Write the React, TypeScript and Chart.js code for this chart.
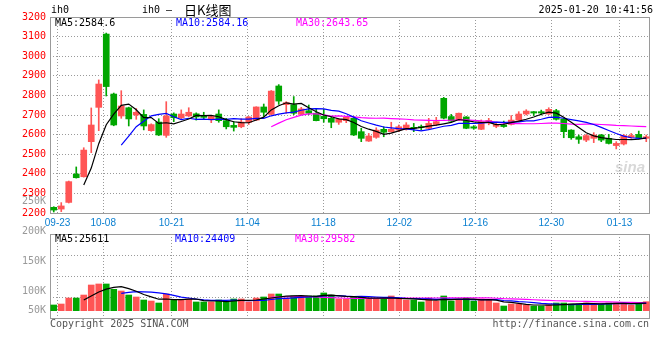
import React, { useEffect, useRef } from 'react';
import { Chart, registerables } from 'chart.js';

Chart.register(...registerables);

// ---------- data ----------
const dates = [
  '09-20', '09-23', '09-24', '09-25', '09-26', '09-27', '09-30',
  '10-08', '10-09', '10-10', '10-11', '10-14', '10-15', '10-16', '10-17', '10-18',
  '10-21', '10-22', '10-23', '10-24', '10-25', '10-28', '10-29', '10-30', '10-31',
  '11-01', '11-04', '11-05', '11-06', '11-07', '11-08', '11-11', '11-12', '11-13', '11-14', '11-15',
  '11-18', '11-19', '11-20', '11-21', '11-22', '11-25', '11-26', '11-27', '11-28', '11-29',
  '12-02', '12-03', '12-04', '12-05', '12-06', '12-09', '12-10', '12-11', '12-12', '12-13',
  '12-16', '12-17', '12-18', '12-19', '12-20', '12-23', '12-24', '12-25', '12-26', '12-27',
  '12-30', '12-31', '01-02', '01-03', '01-06', '01-07', '01-08', '01-09', '01-10',
  '01-13', '01-14', '01-15', '01-16', '01-17',
];

const opens = [
  2229, 2220, 2254, 2399, 2385, 2564, 2739, 3113, 2807, 2695,
  2737, 2700, 2703, 2620, 2664, 2596, 2705, 2686, 2695, 2706,
  2697, 2680, 2705, 2671, 2647, 2640, 2663, 2674, 2741, 2703,
  2848, 2753, 2753, 2703, 2722, 2709, 2693, 2683, 2663, 2671,
  2683, 2615, 2567, 2586, 2627, 2615, 2623, 2627, 2636, 2639,
  2632, 2652, 2785, 2692, 2674, 2690, 2640, 2627, 2660, 2642,
  2649, 2652, 2674, 2705, 2717, 2717, 2705, 2722, 2680, 2623,
  2589, 2572, 2581, 2598, 2581, 2544, 2552, 2586, 2601, 2581,
];
const highs = [
  2232, 2253, 2363, 2435, 2533, 2736, 2879, 3118, 2812, 2824,
  2740, 2733, 2726, 2655, 2681, 2768, 2711, 2726, 2737, 2711,
  2714, 2694, 2726, 2683, 2666, 2681, 2692, 2742, 2756, 2825,
  2855, 2768, 2794, 2739, 2751, 2729, 2729, 2692, 2683, 2692,
  2690, 2632, 2606, 2635, 2640, 2663, 2649, 2661, 2657, 2649,
  2683, 2688, 2790, 2703, 2710, 2692, 2646, 2675, 2683, 2660,
  2669, 2697, 2717, 2727, 2718, 2725, 2737, 2729, 2683, 2625,
  2598, 2601, 2610, 2601, 2601, 2564, 2601, 2606, 2618, 2598,
];
const lows = [
  2205, 2207, 2251, 2378, 2383, 2508, 2620, 2797, 2645, 2683,
  2644, 2678, 2624, 2617, 2595, 2586, 2666, 2680, 2692, 2674,
  2678, 2661, 2663, 2629, 2618, 2635, 2652, 2672, 2693, 2700,
  2754, 2709, 2702, 2701, 2702, 2670, 2663, 2635, 2652, 2661,
  2595, 2564, 2565, 2581, 2589, 2612, 2615, 2623, 2615, 2623,
  2627, 2646, 2680, 2667, 2672, 2630, 2627, 2625, 2650, 2635,
  2637, 2649, 2666, 2700, 2697, 2700, 2703, 2674, 2584, 2576,
  2555, 2564, 2559, 2564, 2552, 2527, 2547, 2581, 2578, 2564,
];
const closes = [
  2215, 2236, 2360, 2380, 2521, 2649, 2858, 2845, 2649, 2746,
  2680, 2714, 2644, 2651, 2598, 2695, 2686, 2705, 2714, 2690,
  2688, 2692, 2671, 2640, 2637, 2664, 2690, 2741, 2714, 2822,
  2771, 2763, 2709, 2731, 2709, 2671, 2681, 2663, 2678, 2688,
  2598, 2581, 2593, 2623, 2612, 2627, 2640, 2649, 2632, 2636,
  2657, 2666, 2684, 2669, 2709, 2632, 2633, 2666, 2672, 2652,
  2641, 2674, 2705, 2720, 2710, 2710, 2729, 2678, 2615, 2584,
  2576, 2595, 2598, 2572, 2555, 2555, 2595, 2595, 2581, 2589,
];
const volumes = [
  76700, 78300, 88300, 88300, 93300, 110000, 111700, 111700, 102800, 100000,
  93300, 90000, 85000, 83300, 80000, 95000, 85000, 85000, 86700, 81700,
  81700, 81700, 85000, 81700, 86700, 86700, 81700, 88300, 90000, 95000,
  95000, 88300, 91700, 91700, 91700, 91700, 96700, 93300, 86700, 86700,
  90000, 90000, 86700, 86700, 86700, 91700, 86700, 85000, 85000, 81700,
  88300, 83300, 91700, 83300, 85000, 88300, 83300, 86700, 85000, 80000,
  75000, 78300, 78300, 76700, 75000, 75000, 76700, 80000, 80000, 78300,
  78300, 80000, 78300, 78300, 80000, 80000, 80000, 76700, 80000, 82200,
];

const tickDates = ['09-23', '10-08', '10-21', '11-04', '11-18', '12-02', '12-16', '12-30', '01-13'];
const priceLegend = ['MA5:2584.6', 'MA10:2584.16', 'MA30:2643.65'];
const volumeLegend = ['MA5:25611', 'MA10:24409', 'MA30:29582'];
const volumeTickValues = [250000, 200000, 150000, 100000, 50000];
const maPeriods = [5, 10, 30];
const headerTexts = ['ih0', 'ih0', '–', '日K线图', '2025-01-20 10:41:56'];
const footerTexts = ['Copyright 2025 SINA.COM', 'http://finance.sina.com.cn'];

// ---------- styles ----------
const UP = '#ff5555';
const DOWN = '#00a600';
const MA_COLORS = ['#000000', '#0000ff', '#ff00ff'];
const GRID = '#9a9a9a';
const FRAME = '#9a9a9a';
const MONO = '"DejaVu Sans Mono", "Liberation Mono", monospace';
const N = dates.length;

function movingAverage(values: number[], n: number) {
  const out: { x: number; y: number }[] = [];
  for (let i = n - 1; i < values.length; i++) {
    let s = 0;
    for (let j = i - n + 1; j <= i; j++) s += values[j];
    out.push({ x: i, y: s / n });
  }
  return out;
}

const gridValue = (d: string) => (dates.indexOf(d) * N) / (N - 1) - 0.5;
const candleColors = closes.map((c, i) => (c >= opens[i] ? UP : DOWN));

function xAxis(showLabels: boolean, height: number) {
  return {
    type: 'linear' as const,
    min: -0.5,
    max: N - 0.5,
    offset: false,
    afterBuildTicks: (s: any) => {
      s.ticks = tickDates.map((d) => ({ value: gridValue(d) }));
    },
    afterFit: (s: any) => {
      s.height = height;
    },
    grid: { color: GRID, drawTicks: false, lineWidth: 1, offset: false },
    border: { display: false, dash: [1, 2] },
    ticks: {
      display: showLabels,
      autoSkip: false,
      maxRotation: 0,
      minRotation: 0,
      color: '#0a7fd0',
      font: { family: '"Liberation Sans", Arial, sans-serif', size: 10 },
      padding: 4,
      callback: (_v: any, idx: number) => tickDates[idx],
    },
  };
}

const framePlugin = {
  id: 'frame',
  beforeDatasetsDraw(chart: any) {
    const { ctx, chartArea: a } = chart;
    ctx.save();
    ctx.strokeStyle = FRAME;
    ctx.lineWidth = 1;
    ctx.strokeRect(Math.round(a.left) + 0.5, Math.round(a.top) + 0.5, Math.round(a.right - a.left) - 1, Math.round(a.bottom - a.top));
    ctx.restore();
  },
};

const priceTextPlugin = {
  id: 'priceText',
  afterDraw(chart: any) {
    const { ctx, chartArea: a } = chart;
    ctx.save();
    ctx.textBaseline = 'middle';
    ctx.font = `10px ${MONO}`;
    ctx.fillStyle = '#000';
    ctx.textAlign = 'left';
    ctx.fillText(headerTexts[0], 51, 10);
    ctx.fillText(headerTexts[1], 142, 10);
    ctx.textAlign = 'center';
    ctx.fillText(headerTexts[2], 169, 10);
    ctx.textAlign = 'left';
    ctx.font = `13px "Noto Sans CJK SC", sans-serif`;
    ctx.fillText(headerTexts[3], 184, 10);
    ctx.font = `10px ${MONO}`;
    ctx.textAlign = 'right';
    ctx.fillText(headerTexts[4], 653, 10);
    ctx.textAlign = 'left';
    const xs = [a.left + 5, a.left + 126, a.left + 246];
    priceLegend.forEach((t, i) => {
      ctx.fillStyle = MA_COLORS[i];
      ctx.fillText(t, xs[i], a.top + 6);
    });
    // watermark
    ctx.fillStyle = 'rgba(190,190,190,0.6)';
    ctx.font = `italic bold 15px "Liberation Sans", sans-serif`;
    ctx.textAlign = 'right';
    ctx.fillText('sina', a.right - 5, a.bottom - 45);
    ctx.restore();
  },
};

const volumeTextPlugin = {
  id: 'volumeText',
  afterDraw(chart: any) {
    const { ctx, chartArea: a } = chart;
    const ys = chart.scales.y;
    ctx.save();
    ctx.textBaseline = 'middle';
    ctx.font = `10px ${MONO}`;
    ctx.textAlign = 'right';
    ctx.fillStyle = '#999';
    volumeTickValues.forEach((v) => {
      const y = Math.min(ys.getPixelForValue(v), a.bottom - 8);
      ctx.fillText(`${v / 1000}K`, a.left - 4, y);
    });
    ctx.textAlign = 'left';
    const xs = [a.left + 5, a.left + 125, a.left + 245];
    volumeLegend.forEach((t, i) => {
      ctx.fillStyle = MA_COLORS[i];
      ctx.fillText(t, xs[i], a.top + 5);
    });
    ctx.fillStyle = '#555';
    ctx.fillText(footerTexts[0], a.left, a.bottom + 6);
    ctx.textAlign = 'right';
    ctx.fillText(footerTexts[1], a.right - 1, a.bottom + 6);
    ctx.restore();
  },
};

export default function App() {
  const priceRef = useRef<HTMLCanvasElement | null>(null);
  const volRef = useRef<HTMLCanvasElement | null>(null);

  useEffect(() => {
    const maLines = (vals: number[]) =>
      maPeriods.map((p, i) => ({
        type: 'line' as const,
        data: movingAverage(vals, p),
        borderColor: MA_COLORS[i],
        borderWidth: 1.2,
        pointRadius: 0,
        fill: false,
        tension: 0,
        order: 0,
      }));

    const price = new Chart(priceRef.current!, {
      type: 'bar',
      data: {
        datasets: [
          ...maLines(closes),
          {
            type: 'bar' as const,
            data: opens.map((o, i) => ({ x: i, y: [o, closes[i]] })) as any,
            backgroundColor: candleColors,
            barThickness: 6,
            grouped: false,
            minBarLength: 1,
            order: 1,
          },
          {
            type: 'bar' as const,
            data: lows.map((l, i) => ({ x: i, y: [l, highs[i]] })) as any,
            backgroundColor: candleColors,
            barThickness: 1,
            grouped: false,
            order: 2,
          },
        ],
      },
      options: {
        animation: false,
        responsive: false,
        devicePixelRatio: 1,
        layout: { padding: { top: 17, right: 10, left: 0, bottom: 0 } },
        plugins: { legend: { display: false }, tooltip: { enabled: false } },
        scales: {
          x: xAxis(true, 19) as any,
          y: {
            min: 2200,
            max: 3200,
            afterFit: (s: any) => {
              s.width = 50;
            },
            grid: { color: GRID, drawTicks: false },
            border: { display: false, dash: [1, 2] },
            ticks: {
              stepSize: 100,
              color: '#ff0000',
              font: { family: MONO, size: 10 },
              padding: 4,
              callback: (v: any) => String(v),
            },
          },
        },
      },
      plugins: [framePlugin, priceTextPlugin],
    });

    const vol = new Chart(volRef.current!, {
      type: 'bar',
      data: {
        datasets: [
          ...maLines(volumes),
          {
            type: 'bar' as const,
            data: volumes.map((v, i) => ({ x: i, y: v })) as any,
            backgroundColor: candleColors,
            barThickness: 6,
            grouped: false,
            base: 67200,
            order: 1,
          },
        ],
      },
      options: {
        animation: false,
        responsive: false,
        devicePixelRatio: 1,
        layout: { padding: { top: 44, right: 10, left: 0, bottom: 0 } },
        plugins: { legend: { display: false }, tooltip: { enabled: false } },
        scales: {
          x: xAxis(false, 42) as any,
          y: {
            min: 55000,
            max: 195000,
            afterFit: (s: any) => {
              s.width = 50;
            },
            grid: { color: GRID, drawTicks: false },
            border: { display: false, dash: [1, 2] },
            ticks: { stepSize: 35000, display: false },
          },
        },
      },
      plugins: [framePlugin, volumeTextPlugin],
    });

    return () => {
      price.destroy();
      vol.destroy();
    };
  }, []);

  return (
    <div style={{ position: 'fixed', left: 0, top: 0, width: 660, height: 360, background: '#fff' }}>
      <canvas ref={priceRef} width={660} height={232} style={{ position: 'absolute', left: 0, top: 0, display: 'block' }} />
      <canvas ref={volRef} width={660} height={170} style={{ position: 'absolute', left: 0, top: 190, display: 'block' }} />
    </div>
  );
}
